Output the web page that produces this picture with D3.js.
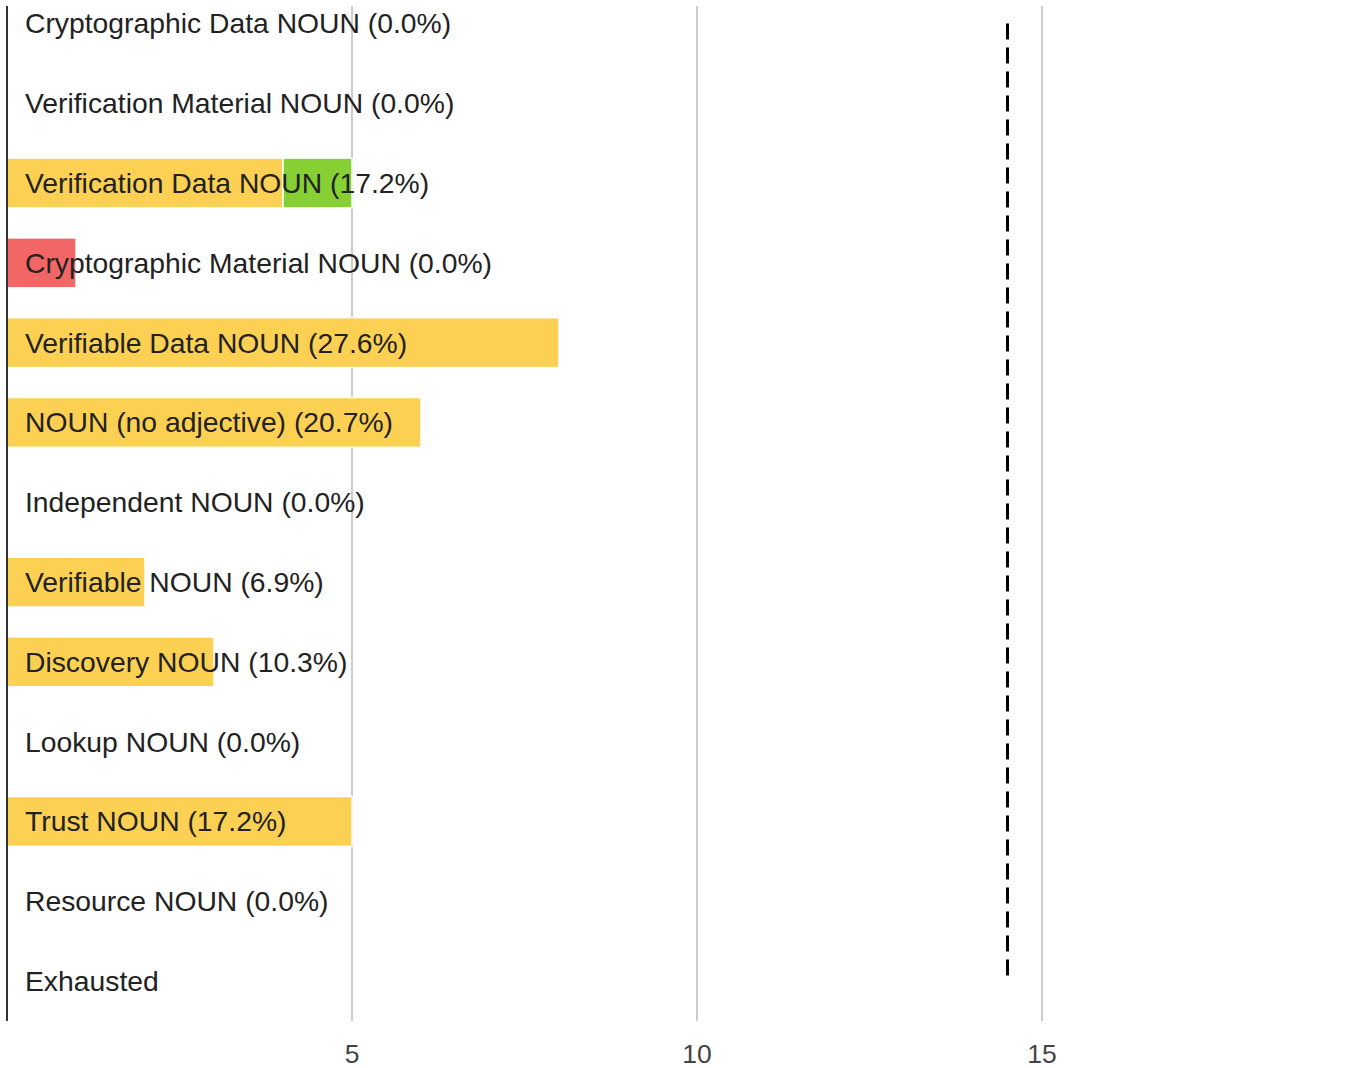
<!DOCTYPE html>
<html>
<head>
<meta charset="utf-8">
<script src="https://cdn.jsdelivr.net/npm/d3@7"></script>
<style>
  body { margin: 0; background: #fff; }
  svg { display: block; font-family: "Liberation Sans", Arial, sans-serif; }
</style>
</head>
<body>
<svg id="chart"></svg>
<script>
width = 1371;
height = 1068;

// row labels, top to bottom
const labels = [
    "Cryptographic Data NOUN (0.0%)",
    "Verification Material NOUN (0.0%)",
    "Verification Data NOUN (17.2%)",
    "Cryptographic Material NOUN (0.0%)",
    "Verifiable Data NOUN (27.6%)",
    "NOUN (no adjective) (20.7%)",
    "Independent NOUN (0.0%)",
    "Verifiable NOUN (6.9%)",
    "Discovery NOUN (10.3%)",
    "Lookup NOUN (0.0%)",
    "Trust NOUN (17.2%)",
    "Resource NOUN (0.0%)",
    "Exhausted"
];

// stacked segments per row
const yellowVals = [0, 0, 4, 0, 8, 6, 0, 2, 3, 0, 5, 0, 0];
const greenVals  = [0, 0, 1, 0, 0, 0, 0, 0, 0, 0, 0, 0, 0];
const redVals    = [0, 0, 0, 1, 0, 0, 0, 0, 0, 0, 0, 0, 0];

const threshold = 14.5;
const tickVals = [5, 10, 15];

const colors = {yellow: "#fcd153", green: "#87d034", red: "#f26666"};

const svg = d3.select("#chart")
    .attr("width", width)
    .attr("height", height);

let x = d3.scaleLinear()
    .domain([0, 19.8])
    .range([7, 7 + 69 * 19.8]);

let y = d3.scaleBand()
    .domain(labels)
    .range([-16.5, 1021])
    .paddingInner(0.375)
    .paddingOuter(0.1875);

// gridlines
svg.append("g")
    .selectAll("line")
    .data(tickVals)
    .enter()
    .append("line")
    .attr("x1", d => x(d))
    .attr("x2", d => x(d))
    .attr("y1", 6)
    .attr("y2", 1021)
    .attr("stroke", "#cccccc")
    .attr("stroke-width", 2);

// build segments
var segs = [];
labels.forEach((lab, i) => {
    let start = 0;
    [["yellow", yellowVals[i]], ["green", greenVals[i]], ["red", redVals[i]]].forEach(([c, v]) => {
        if (v > 0) {
            segs.push({label: lab, x0: start, x1: start + v, color: colors[c]});
            start += v;
        }
    });
});

svg.append("g")
    .selectAll("rect")
    .data(segs)
    .enter()
    .append("rect")
    .attr("x", d => x(d.x0))
    .attr("width", d => x(d.x1) - x(d.x0))
    .attr("y", d => y(d.label))
    .attr("height", y.bandwidth())
    .attr("fill", d => d.color)
    .attr("stroke", "#fff")
    .attr("stroke-width", 1.5);

// axis line at 0
svg.append("line")
    .attr("x1", x(0))
    .attr("x2", x(0))
    .attr("y1", 6)
    .attr("y2", 1021)
    .attr("stroke", "#333")
    .attr("stroke-width", 2);

// threshold dashed line
svg.append("line")
    .attr("x1", x(threshold))
    .attr("x2", x(threshold))
    .attr("y1", y(labels[0]) + y.bandwidth() / 2)
    .attr("y2", y(labels[labels.length - 1]) + y.bandwidth() / 2)
    .attr("stroke", "#000")
    .attr("stroke-width", 3)
    .attr("stroke-dasharray", "16,8");

// row labels
svg.append("g")
    .selectAll("text")
    .data(labels)
    .enter()
    .append("text")
    .attr("x", x(0) + 18)
    .attr("y", d => y(d) + y.bandwidth() / 2)
    .attr("dy", "0.35em")
    .attr("font-size", 28.3)
    .attr("fill", "#222")
    .text(d => d);

// x tick labels
svg.append("g")
    .selectAll("text")
    .data(tickVals)
    .enter()
    .append("text")
    .attr("x", d => x(d))
    .attr("y", 1063)
    .attr("text-anchor", "middle")
    .attr("font-size", 26.5)
    .attr("fill", "#444")
    .text(d => d);
</script>
</body>
</html>
